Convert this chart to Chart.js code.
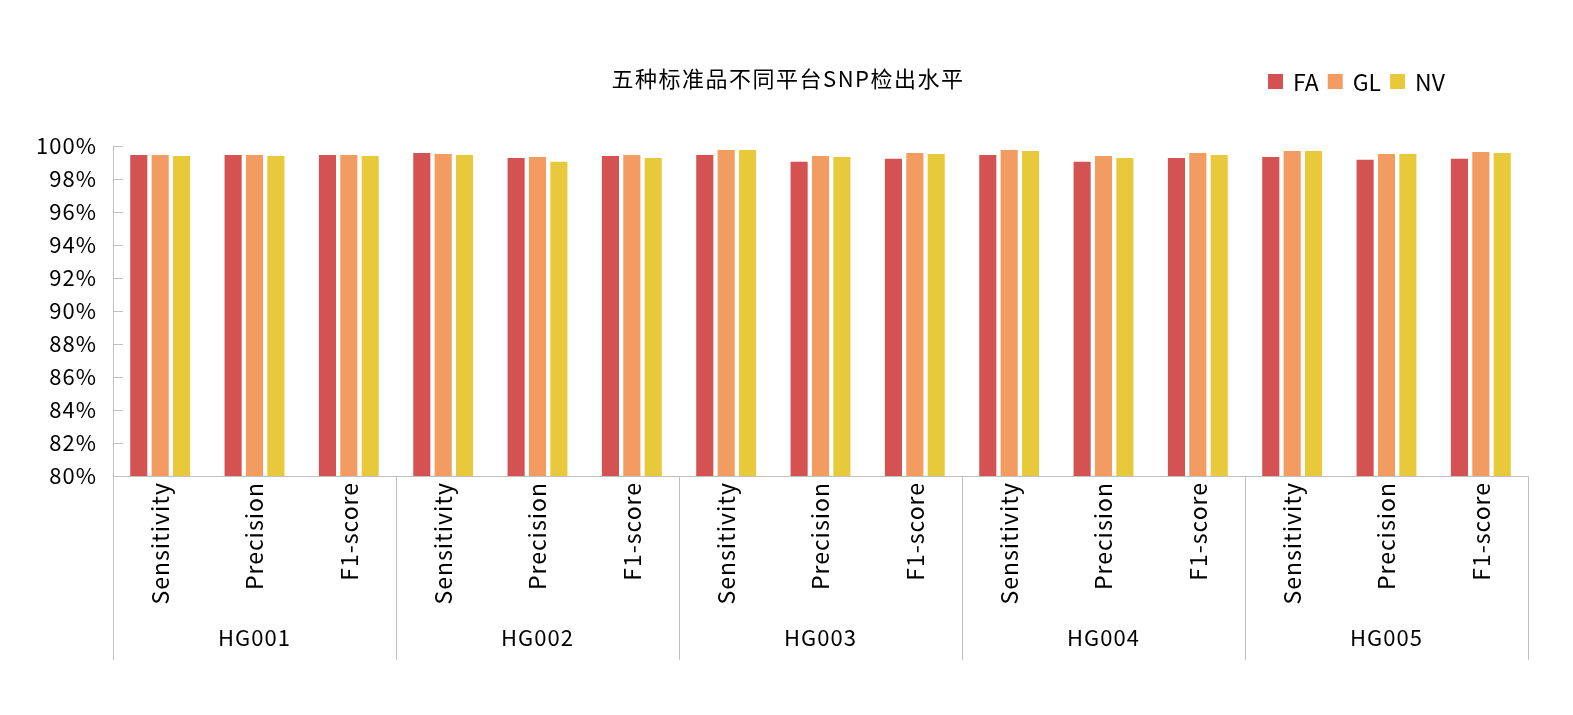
<!DOCTYPE html>
<html>
<head>
<meta charset="utf-8">
<script src="https://cdn.jsdelivr.net/npm/chart.js@4/dist/chart.umd.min.js"></script>
<style>
  body { margin: 0; background: #fff; }
  canvas { display: block; }
</style>
</head>
<body>
<canvas id="snp" width="1573" height="715"></canvas>
<script>
const chartTitle = '五种标准品不同平台SNP检出水平';
const groups = ['HG001', 'HG002', 'HG003', 'HG004', 'HG005'];
const metrics = ['Sensitivity', 'Precision', 'F1-score'];
const yTicks = [80, 82, 84, 86, 88, 90, 92, 94, 96, 98, 100];

// values in %, per group: Sensitivity, Precision, F1-score
const faValues = [99.46, 99.46, 99.46, 99.58, 99.28, 99.40, 99.46, 99.04, 99.22, 99.46, 99.04, 99.28, 99.34, 99.16, 99.22];
const glValues = [99.46, 99.46, 99.46, 99.52, 99.34, 99.46, 99.76, 99.40, 99.58, 99.76, 99.40, 99.58, 99.70, 99.52, 99.64];
const nvValues = [99.40, 99.40, 99.40, 99.46, 99.04, 99.28, 99.76, 99.34, 99.52, 99.70, 99.28, 99.46, 99.70, 99.52, 99.58];

const FONT = '"Noto Sans CJK SC", "Noto Sans", sans-serif';
const AXIS_COLOR = '#BFBFBF';

const labels = [];
groups.forEach(() => metrics.forEach(m => labels.push(m)));

// slightly spaced text like the original office chart
const spacing = {
  id: 'spacing',
  beforeLayout(chart) { chart.ctx.letterSpacing = '1px'; },
  beforeDraw(chart) { chart.ctx.letterSpacing = '1px'; }
};

// inward tick marks, group separators + labels, title, legend
const extras = {
  id: 'extras',
  afterDraw(chart) {
    const ctx = chart.ctx;
    const area = chart.chartArea;
    const x = chart.scales.x;
    const y = chart.scales.y;
    ctx.save();

    // y tick marks pointing into the plot
    ctx.strokeStyle = AXIS_COLOR;
    ctx.lineWidth = 1;
    yTicks.forEach(v => {
      const py = Math.round(y.getPixelForValue(v)) + 0.5;
      ctx.beginPath();
      ctx.moveTo(area.left, py);
      ctx.lineTo(area.left + 10, py);
      ctx.stroke();
    });

    // group separators
    const n = metrics.length;
    const bounds = [area.left];
    for (let g = 1; g < groups.length; g++) {
      bounds.push((x.getPixelForValue(g * n - 1) + x.getPixelForValue(g * n)) / 2);
    }
    bounds.push(area.right);
    bounds.forEach(bx => {
      const px = Math.round(bx) + 0.5;
      ctx.beginPath();
      ctx.moveTo(px, area.bottom);
      ctx.lineTo(px, 660);
      ctx.stroke();
    });

    // group labels
    ctx.fillStyle = '#000';
    ctx.font = '22px ' + FONT;
    ctx.letterSpacing = '1px';
    ctx.textAlign = 'center';
    ctx.textBaseline = 'middle';
    groups.forEach((name, g) => {
      const cx = (x.getPixelForValue(g * n) + x.getPixelForValue(g * n + n - 1)) / 2;
      ctx.fillText(name, cx, 638);
    });

    // title
    ctx.font = '22px ' + FONT;
    ctx.letterSpacing = '1.5px';
    ctx.fillText(chartTitle, 788, 79);

    // legend
    ctx.font = '23px ' + FONT;
    ctx.letterSpacing = '0px';
    ctx.textAlign = 'left';
    let lx = 1268;
    chart.data.datasets.forEach(ds => {
      ctx.fillStyle = ds.backgroundColor;
      ctx.fillRect(lx, 74, 15, 15);
      ctx.fillStyle = '#000';
      ctx.fillText(ds.label, lx + 25, 82);
      lx += 25 + ctx.measureText(ds.label).width + 9;
    });

    ctx.restore();
  }
};

new Chart('snp', {
  type: 'bar',
  data: {
    labels: labels,
    datasets: [
      { label: 'FA', data: faValues, backgroundColor: '#D45252' },
      { label: 'GL', data: glValues, backgroundColor: '#F29C62' },
      { label: 'NV', data: nvValues, backgroundColor: '#E8C93B' }
    ]
  },
  options: {
    responsive: false,
    animation: false,
    devicePixelRatio: 1,
    layout: { padding: { top: 146, right: 45, left: 0, bottom: 0 } },
    datasets: { bar: { categoryPercentage: 0.68, barPercentage: 0.8 } },
    plugins: {
      legend: { display: false },
      title: { display: false },
      tooltip: { enabled: false }
    },
    scales: {
      x: {
        grid: { display: false, drawTicks: false },
        border: { display: true, color: AXIS_COLOR, width: 1 },
        ticks: {
          autoSkip: false,
          minRotation: 90,
          maxRotation: 90,
          padding: 6,
          color: '#000',
          font: { family: FONT, size: 23 }
        },
        afterFit: s => { s.height = 239; }
      },
      y: {
        min: 80,
        max: 100,
        grid: { display: false, drawTicks: false },
        border: { display: true, color: AXIS_COLOR, width: 1 },
        afterBuildTicks: s => { s.ticks = yTicks.map(v => ({ value: v })); },
        ticks: {
          padding: 16,
          color: '#000',
          font: { family: FONT, size: 22 },
          callback: v => v + '%'
        },
        afterFit: s => { s.width = 113; }
      }
    }
  },
  plugins: [spacing, extras]
});
</script>
</body>
</html>
